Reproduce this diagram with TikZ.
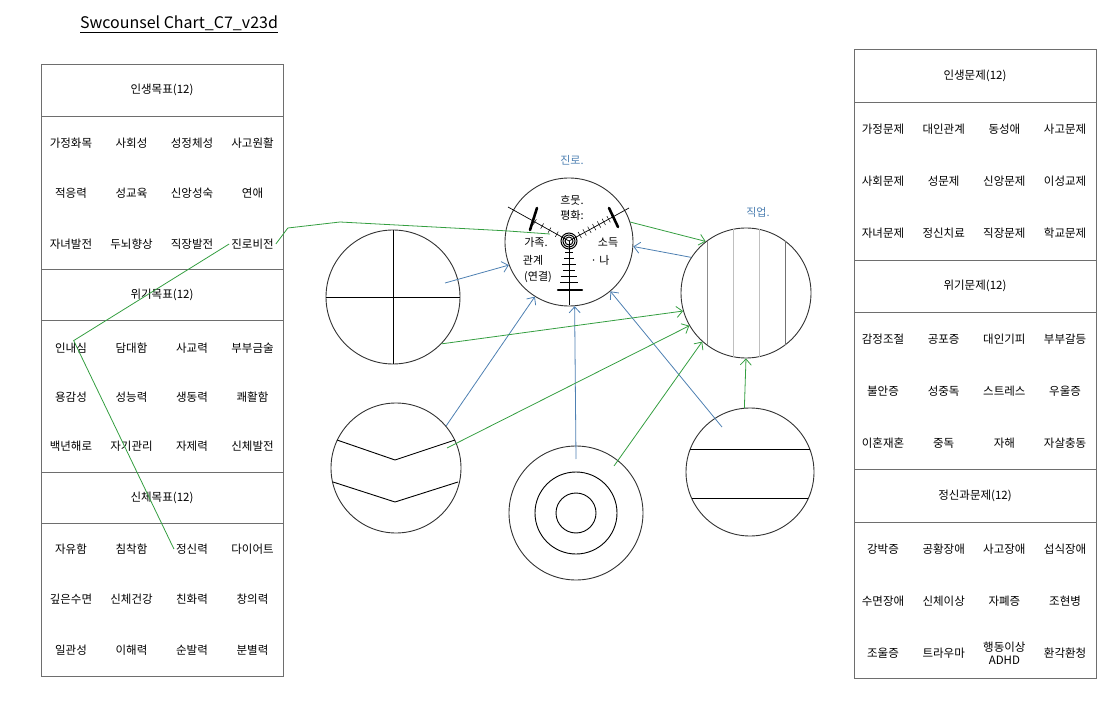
\documentclass[tikz,border=0pt]{standalone}
\usepackage{fontspec}
\setmainfont{Noto Sans CJK KR}
\usetikzlibrary{arrows.meta,calc}

\definecolor{penblue}{RGB}{78,128,178}
\definecolor{pengreen}{RGB}{52,158,64}
\definecolor{tblgray}{RGB}{110,110,110}

\tikzset{
  tbl/.style={draw=tblgray, line width=0.9pt},
  head/.style={font=\fontsize{11.5}{13}\selectfont},
  cell/.style={font=\fontsize{11.5}{13}\selectfont, inner sep=2pt},
  disc/.style={circle, draw=black!80, line width=0.9pt, inner sep=0pt},
  bline/.style={penblue, line width=0.8pt, ->},
  gline/.style={pengreen, line width=0.8pt},
  scrawl/.style={font=\fontsize{11}{12}\selectfont, inner sep=0pt},
}

\begin{document}
\begin{tikzpicture}[x=1pt,y=-1pt,>={Straight Barb[length=6pt,width=11pt]}]

\useasboundingbox (0,0) rectangle (1120,714);

\node[font=\fontsize{16}{18}\selectfont] (title) at (179,24) {\underline{Swcounsel Chart\_C7\_v23d}};

% left table : goals
\draw[tbl] (41,64) rectangle (283,676);
\foreach \y in {116,269,320,472,523} \draw[tbl] (41,\y) -- (283,\y);
\node[head] (ga) at (162,90) {인생목표(12)};
\node[head] (gb) at (162,295) {위기목표(12)};
\node[head] (gc) at (162,498) {신체목표(12)};
\foreach \t [count=\i from 0] in {가정화목,사회성,성정체성,사고원활,적응력,성교육,신앙성숙,연애,자녀발전,두뇌향상,직장발전,진로비전}
  \node[cell] (ga\i) at ({71+60.5*mod(\i,4)},{143+50.5*int(\i/4)}) {\t};
\foreach \t [count=\i from 0] in {인내심,담대함,사교력,부부금술,용감성,성능력,생동력,쾌활함,백년해로,자기관리,자제력,신체발전}
  \node[cell] (gb\i) at ({71+60.5*mod(\i,4)},{348+49*int(\i/4)}) {\t};
\foreach \t [count=\i from 0] in {자유함,침착함,정신력,다이어트,깊은수면,신체건강,친화력,창의력,일관성,이해력,순발력,분별력}
  \node[cell] (gc\i) at ({71+60.5*mod(\i,4)},{549+50.5*int(\i/4)}) {\t};

% right table : problems
\draw[tbl] (854,49) rectangle (1096,678);
\foreach \y in {102,260,312,469,522} \draw[tbl] (854,\y) -- (1096,\y);
\node[head] (pa) at (975,76) {인생문제(12)};
\node[head] (pb) at (975,286) {위기문제(12)};
\node[head] (pc) at (975,496) {정신과문제(12)};
\foreach \t [count=\i from 0] in {가정문제,대인관계,동성애,사고문제,사회문제,성문제,신앙문제,이성교제,자녀문제,정신치료,직장문제,학교문제}
  \node[cell] (pa\i) at ({883+60.7*mod(\i,4)},{129+52*int(\i/4)}) {\t};
\foreach \t [count=\i from 0] in {감정조절,공포증,대인기피,부부갈등,불안증,성중독,스트레스,우울증,이혼재혼,중독,자해,자살충동}
  \node[cell] (pb\i) at ({883+60.7*mod(\i,4)},{339+52*int(\i/4)}) {\t};
\foreach \t [count=\i from 0] in {강박증,공황장애,사고장애,섭식장애,수면장애,신체이상,자폐증,조현병,조울증,트라우마,{행동이상\\ADHD},환각환청}
  \node[cell, align=center] (pc\i) at ({883+60.7*mod(\i,4)},{549+52*int(\i/4)}) {\t};

% circles
\node[disc, minimum size=128pt] (tc) at (569,242) {};
\node[disc, minimum size=134pt] (qc) at (393,297) {};
\node[disc, minimum size=130pt] (vc) at (396,468) {};
\node[disc, minimum size=134pt] (rc) at (576,513) {};
\node[disc, minimum size=130pt] (sc) at (746,293) {};
\node[disc, minimum size=128pt] (hc) at (750,472) {};

% cross
\draw[line width=0.9pt] (qc.north) -- (qc.south);
\draw[line width=0.9pt] (qc.west) -- (qc.east);
% chevrons
\draw[line width=0.9pt] (337,440) -- (395,460) -- (455,440);
\draw[line width=0.9pt] (333,482) -- (395,502) -- (458,482);
% rings
\draw[line width=0.9pt] (rc) circle (41pt);
\draw[line width=0.9pt] (rc) circle (20pt);
% stripes
\foreach \dx/\c in {-39/45,-13/25,13/25,39/55}{
  \pgfmathsetmacro\h{sqrt(65*65-\dx*\dx)}
  \draw[black!\c, line width=0.9pt] ({746+\dx},{293-\h}) -- ({746+\dx},{293+\h});
}
% bars
\draw[line width=0.9pt] (690,449) -- (810,449);
\draw[line width=0.9pt] (692,498) -- (808,498);

% target
\coordinate (cc) at (569,241);
\coordinate (el) at (508,207);
\coordinate (er) at (629,208);
\coordinate (eb) at (569,305);
\draw[line width=0.7pt] (cc) -- (el);
\draw[line width=0.7pt] (cc) -- (er);
\draw[line width=0.7pt] (cc) -- (eb);
\foreach \t in {0.2,0.32,0.44,0.56}
  \draw[line width=0.5pt] ($(cc)!\t!(el)!3pt!90:(el)$) -- ($(cc)!\t!(el)!3pt!-90:(el)$);
\foreach \t in {0.18,0.26,...,0.7}
  \draw[line width=0.5pt] ($(cc)!\t!(er)!3.5pt!90:(er)$) -- ($(cc)!\t!(er)!3.5pt!-90:(er)$);
\foreach \y/\w in {252/4,258/5,264/7,270/6,276/8,282/9}
  \draw[line width=0.5pt] (569-\w,\y) -- (569+\w,\y);
\draw[line width=2.6pt, line cap=round] (530,230) -- (537,208);
\draw[line width=2.6pt, line cap=round] (609,208) -- (618,227);
\draw[line width=2.4pt, line cap=round] (558,290) -- (582,290);
\foreach \r in {4,6,8}
  \draw[line width=1pt] (cc) circle (\r pt);
\node[scrawl] (w1) at (572,200) {흐뭇.};
\node[scrawl] (w2) at (572,215) {평화:};
\node[scrawl] (w3) at (536,242) {가족.};
\node[scrawl] (w4) at (608,243) {소득};
\node[scrawl] (w5) at (533,260) {관계};
\node[scrawl] (w6) at (538,277) {(연결)};
\node[scrawl] (w7) at (600,260) {· 나};
\node[scrawl, penblue] (lbl1) at (572,160) {진로.};
\node[scrawl, penblue] (lbl2) at (758,212) {직업.};

% blue arrows
\coordinate (qin) at (445,283);
\coordinate (rin) at (576,459);
\coordinate (hin) at (722,427);
\draw[bline] (qin) -- (tc.201);
\draw[bline] (vc.40) -- (tc.238);
\draw[bline] (rin) -- (tc.275);
\draw[bline] (hin) -- (tc.-50);
\draw[bline] (sc.147) -- (tc.-4);

% green arrows
\coordinate (vin) at (447,448);
\coordinate (rin2) at (614,466);
\coordinate (tin) at (550,234);
\draw[gline, ->] (qc.-44) -- (sc.196);
\draw[gline, ->] (vin) -- (sc.210);
\draw[gline, ->] (rin2) -- (sc.228);
\draw[gline, ->] (hc.95) -- (sc.270);
\draw[gline, ->] (tc.18) -- (sc.128);
\draw[gline] (gc2.west) -- (gb0.70) -- (ga11.west);
\draw[gline] (ga11.east) -- ++(12,-16) -- (340,222) -- (tc.170) -- (tin);

\end{tikzpicture}
\end{document}
